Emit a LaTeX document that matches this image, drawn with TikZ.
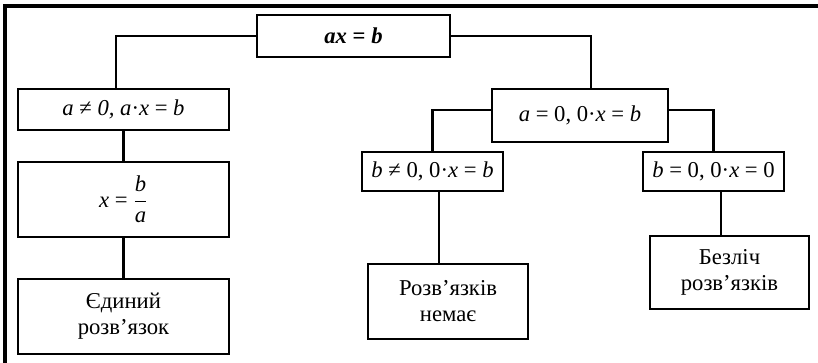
\documentclass[tikz,border=0pt]{standalone}
\usepackage{fontspec}
\setmainfont{Liberation Serif}
\begin{document}
\begin{tikzpicture}[x=0.75pt,y=-0.75pt,
  box/.style={draw,line width=2pt,inner sep=0pt,align=center,font=\fontsize{17}{19.5}\selectfont},
  link/.style={line width=2pt},
  frame/.style={line width=2.6pt}]
\useasboundingbox (0,0) rectangle (818,363);
\draw[frame] (5,363) -- (5,6) -- (818,6);
\node[box,minimum width=144.75pt,minimum height=31.5pt] (top) at (353.5,36) {\textbf{\textit{ax} = \textit{b}}};
\node[box,minimum width=158.25pt,minimum height=30.75pt] (a1) at (123.5,109.5) {\textit{a} ≠ \textit{0, a}·\textit{x} = \textit{b}};
\node[box,minimum width=158.25pt,minimum height=56.25pt] (fr) at (123.5,199.5) {\textit{x} = $\displaystyle\frac{\textit{b}}{\textit{a}}$};
\node[box,minimum width=158.25pt,minimum height=56.25pt] (one) at (123.5,316.5) {Єдиний\\розв’язок};
\node[box,minimum width=132pt,minimum height=39.75pt] (a0) at (580,115.5) {\textit{a} = 0, 0·\textit{x} = \textit{b}};
\node[box,minimum width=105.75pt,minimum height=29.25pt] (b1) at (432.5,171.5) {\textit{b} ≠ 0, 0·\textit{x} = \textit{b}};
\node[box,minimum width=105.75pt,minimum height=29.25pt] (b2) at (713.5,171.5) {\textit{b} = 0,\ 0·\textit{x} = 0};
\node[box,minimum width=120pt,minimum height=56.25pt] (none) at (448,301.5) {Розв’язків\\немає};
\node[box,minimum width=119.25pt,minimum height=54.75pt] (many) at (729.5,272.5) {Безліч\\розв’язків};
\draw[link] (top.west) -| ([xshift=-5.6pt]a1.north);
\draw[link] (a1.south) -- (fr.north);
\draw[link] (fr.south) -- (one.north);
\draw[link] (top.east) -| ([xshift=8.25pt]a0.north);
\draw[link] ([yshift=4.1pt]a0.west) -| (b1.north);
\draw[link] ([yshift=4.1pt]a0.east) -| (b2.north);
\draw[link] ([xshift=4.9pt]b1.south) -- ([xshift=4.9pt]b1.south |- none.north);
\draw[link] ([xshift=5.6pt]b2.south) -- ([xshift=5.6pt]b2.south |- many.north);
\end{tikzpicture}
\end{document}
